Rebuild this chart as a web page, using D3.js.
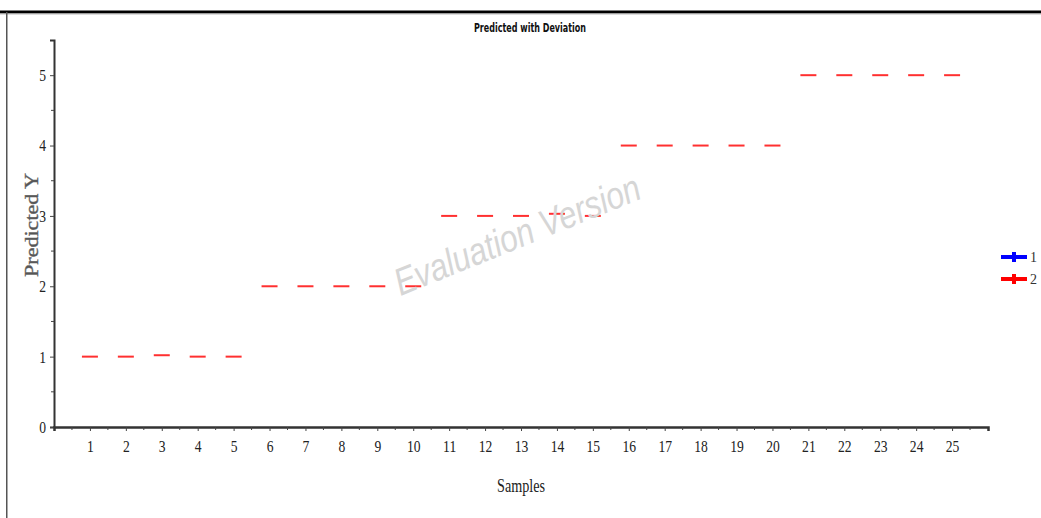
<!DOCTYPE html>
<html>
<head>
<meta charset="utf-8">
<script src="https://cdn.jsdelivr.net/npm/d3@7"></script>
<style>
  body { margin: 0; background: #fff; }
  svg { display: block; }
</style>
</head>
<body>
<div id="chart"></div>
<script>
// samples and predicted values (series 2, red)
var samples = d3.range(1, 26);
var predicted = [1, 1, 1.02, 1, 1,
                 2, 2, 2, 2, 2,
                 3, 3, 3, 3.03, 3,
                 4, 4, 4, 4, 4,
                 5, 5, 5, 5, 5];
var yTicks = [0, 1, 2, 3, 4, 5];
var legendLabels = ["1", "2"];
var legendColors = ["#0000ff", "#ff0000"];

var W = 1041, H = 518;
var margin = {top: 40, right: 53, bottom: 91, left: 54},
    width = W - margin.left - margin.right,
    height = H - margin.top - margin.bottom;

var svg = d3.select("#chart").append("svg")
    .attr("width", W)
    .attr("height", H);

// frame lines (top and left)
svg.append("rect").attr("x", 0).attr("y", 10.5).attr("width", W).attr("height", 3).attr("fill", "#000");
svg.append("rect").attr("x", 0).attr("y", 13.5).attr("width", W).attr("height", 1).attr("fill", "#bbb");
svg.append("rect").attr("x", 6).attr("y", 12).attr("width", 1.5).attr("height", H).attr("fill", "#555");

var g = svg.append("g")
    .attr("transform", "translate(" + margin.left + "," + margin.top + ")");

var x = d3.scaleLinear().domain([0, 26]).range([0, width]);
var y = d3.scaleLinear().domain([0, 5.5]).range([height, 0]);

// watermark
svg.append("text")
    .attr("transform", "translate(522,247) rotate(-22)")
    .attr("text-anchor", "middle")
    .attr("font-family", "Liberation Sans, Arial, sans-serif")
    .attr("font-style", "italic")
    .attr("font-size", 38)
    .attr("textLength", 262)
    .attr("lengthAdjust", "spacingAndGlyphs")
    .attr("fill", "#d6d6d6")
    .text("Evaluation Version");

// y axis
var yAxis = g.append("g")
    .call(d3.axisLeft(y).tickValues(yTicks).tickSize(4).tickFormat(d3.format("d")));
yAxis.select(".domain").attr("stroke", "#333").attr("stroke-width", 2);
yAxis.selectAll(".tick line").attr("stroke", "#444");
yAxis.selectAll(".tick text")
    .attr("font-family", "Liberation Serif, Times New Roman, serif")
    .attr("font-size", 17).attr("fill", "#222")
    .attr("x", -10)
    .attr("transform", "scale(0.8,1)");
// minor y ticks
g.append("g").selectAll("line")
    .data(d3.range(0.5, 5.5, 1))
  .enter().append("line")
    .attr("x1", -3).attr("x2", 0)
    .attr("y1", d => y(d)).attr("y2", d => y(d))
    .attr("stroke", "#444");

// x axis
var xAxis = g.append("g")
    .attr("transform", "translate(0," + height + ")")
    .call(d3.axisBottom(x).tickValues(samples).tickSize(4).tickFormat(d3.format("d")));
xAxis.select(".domain").attr("stroke", "#333").attr("stroke-width", 2.5);
xAxis.selectAll(".tick line").attr("stroke", "#444");
xAxis.selectAll(".tick text")
    .attr("font-family", "Liberation Serif, Times New Roman, serif")
    .attr("font-size", 17).attr("fill", "#222").attr("dy", "1.05em")
    .attr("transform", "scale(0.8,1)");
// minor x ticks
g.append("g").selectAll("line")
    .data(d3.range(0.5, 26, 1))
  .enter().append("line")
    .attr("x1", d => x(d)).attr("x2", d => x(d))
    .attr("y1", height).attr("y2", height + 3)
    .attr("stroke", "#444");

// red dashes
g.selectAll(".dash")
    .data(predicted)
  .enter().append("line")
    .attr("class", "dash")
    .attr("x1", (d, i) => x(samples[i]) - 8)
    .attr("x2", (d, i) => x(samples[i]) + 8)
    .attr("y1", d => y(d))
    .attr("y2", d => y(d))
    .attr("stroke", "#ff3030")
    .attr("stroke-width", 2);

// title
svg.append("text")
    .attr("x", 530).attr("y", 32)
    .attr("text-anchor", "middle")
    .attr("font-family", "Liberation Sans Narrow, DejaVu Sans Condensed, sans-serif")
    .attr("font-weight", "bold")
    .attr("font-size", 12)
    .attr("textLength", 112)
    .attr("lengthAdjust", "spacingAndGlyphs")
    .attr("fill", "#111")
    .text("Predicted with Deviation");

// axis titles
svg.append("text")
    .attr("transform", "translate(38,225) rotate(-90)")
    .attr("text-anchor", "middle")
    .attr("font-family", "Liberation Serif, Times New Roman, serif")
    .attr("font-size", 18)
    .attr("textLength", 104)
    .attr("lengthAdjust", "spacingAndGlyphs")
    .attr("stroke", "#666").attr("stroke-width", 0.4)
    .attr("fill", "#555")
    .text("Predicted Y");

svg.append("text")
    .attr("x", 521).attr("y", 492)
    .attr("text-anchor", "middle")
    .attr("font-family", "Liberation Serif, Times New Roman, serif")
    .attr("font-size", 18)
    .attr("textLength", 48)
    .attr("lengthAdjust", "spacingAndGlyphs")
    .attr("fill", "#222")
    .text("Samples");

// legend
var legend = svg.append("g").selectAll("g")
    .data(legendLabels)
  .enter().append("g")
    .attr("transform", (d, i) => "translate(1001," + (257 + i * 22) + ")");
legend.append("line")
    .attr("x1", 0).attr("x2", 26)
    .attr("stroke", (d, i) => legendColors[i])
    .attr("stroke-width", 4);
legend.append("line")
    .attr("x1", 13).attr("x2", 13).attr("y1", -5).attr("y2", 5)
    .attr("stroke", (d, i) => legendColors[i])
    .attr("stroke-width", 4);
legend.append("text")
    .attr("x", 29).attr("y", 5)
    .attr("font-family", "Liberation Serif, Times New Roman, serif")
    .attr("font-size", 14)
    .attr("fill", "#333")
    .text(d => d);
</script>
</body>
</html>
